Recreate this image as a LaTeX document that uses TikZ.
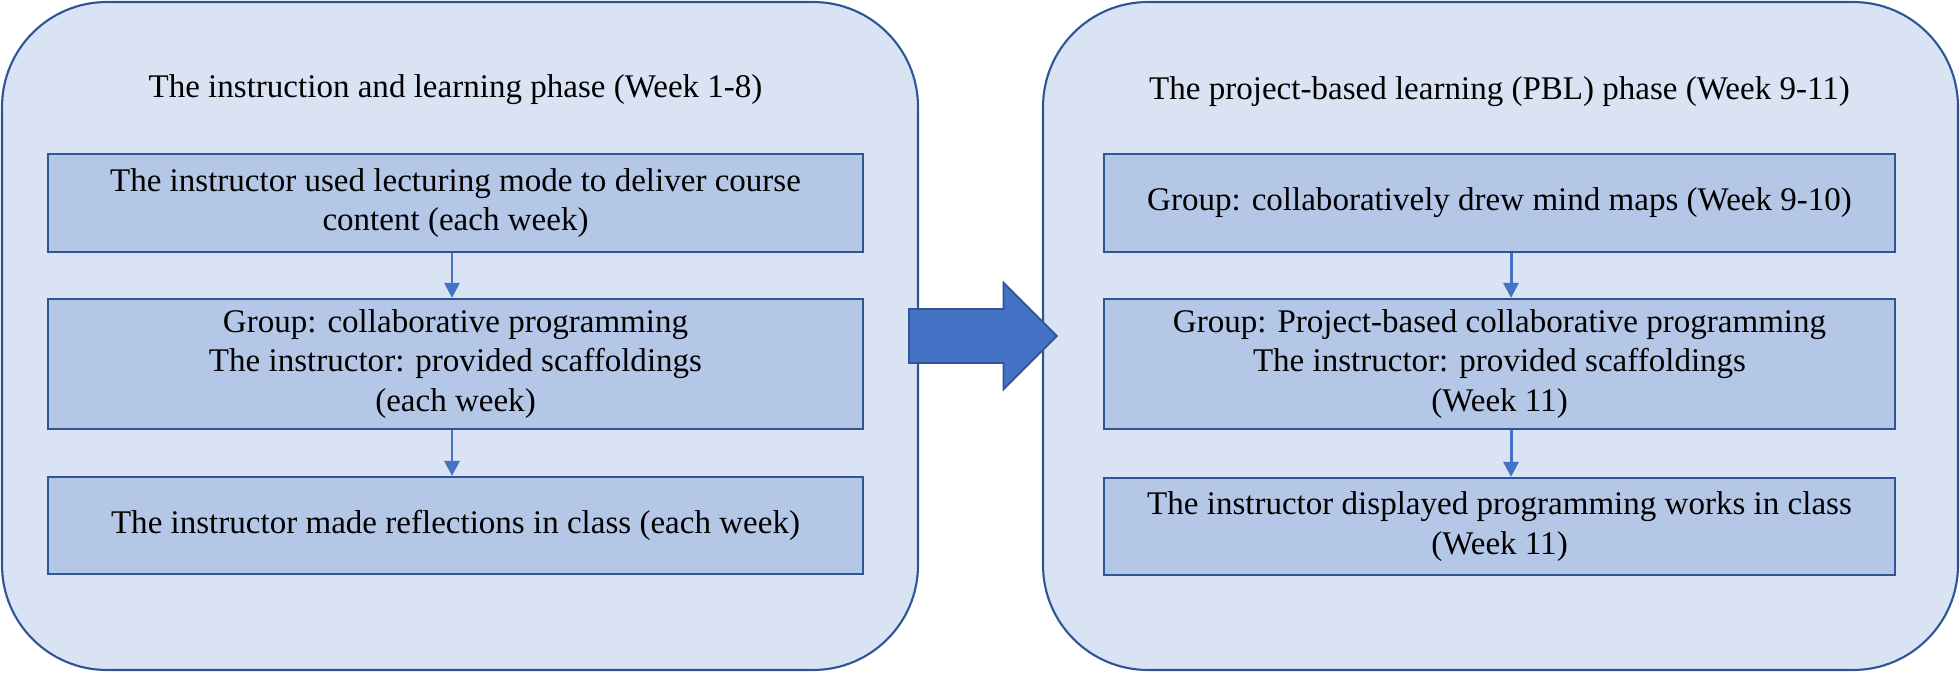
\documentclass[tikz,border=0pt]{standalone}
\usepackage{fontspec}
\setmainfont{Liberation Serif}
\usetikzlibrary{shapes.arrows, arrows.meta}
\definecolor{panelfill}{HTML}{DAE3F3}
\definecolor{boxfill}{HTML}{B4C7E7}
\definecolor{edgeblue}{HTML}{2F5597}
\definecolor{arrowblue}{HTML}{4472C4}

\begin{document}
\begin{tikzpicture}[
    panel/.style={rectangle, draw=edgeblue, line width=0.6pt, fill=panelfill, rounded corners=1.05cm, minimum width=9.16cm, minimum height=6.68cm},
    stagebox/.style={rectangle, draw=edgeblue, line width=0.6pt, fill=boxfill, minimum height=0.98cm, inner sep=0pt, align=center, font={\fontsize{9.4}{11.2}\selectfont}},
    phasetitle/.style={anchor=base, font={\fontsize{9.4}{11.2}\selectfont}},
    arrow/.style={-{Triangle[length=0.15cm, width=0.15cm]}, draw=arrowblue, line width=0.85pt},
    bigarrow/.style={single arrow, draw=edgeblue, line width=0.5pt, fill=arrowblue, inner xsep=0pt, inner ysep=0.26cm, minimum height=1.48cm, single arrow head extend=0.265cm, anchor=tail}
]
    \useasboundingbox (0,0) rectangle (19.6,-6.73);

    % Left phase
    \node[panel] (left) at (4.6, -3.36) {};
    \node[phasetitle] (ltitle) at (4.555, -0.98) {The instruction and learning phase (Week 1-8)};
    \node[stagebox, minimum width=8.15cm] (l1) at (4.555, -2.03) {The instructor used lecturing mode to deliver course\\content (each week)};
    \node[stagebox, minimum width=8.15cm, minimum height=1.30cm] (l2) at (4.555, -3.64) {Group: collaborative programming\\The instructor: provided scaffoldings\\(each week)};
    \node[stagebox, minimum width=8.15cm, minimum height=0.97cm] (l3) at (4.555, -5.255) {The instructor made reflections in class (each week)};
    \draw[arrow] ([xshift=-0.035cm]l1.south) -- ([xshift=-0.035cm]l2.north);
    \draw[arrow] ([xshift=-0.035cm]l2.south) -- ([xshift=-0.035cm]l3.north);

    % Right phase
    \node[panel, minimum width=9.15cm] (right) at (15.005, -3.36) {};
    \node[phasetitle] (rtitle) at (14.995, -1.00) {The project-based learning (PBL) phase (Week 9-11)};
    \node[stagebox, minimum width=7.91cm] (r1) at (14.995, -2.03) {Group: collaboratively drew mind maps (Week 9-10)};
    \node[stagebox, minimum width=7.91cm, minimum height=1.30cm] (r2) at (14.995, -3.64) {Group: Project-based collaborative programming\\The instructor: provided scaffoldings\\(Week 11)};
    \node[stagebox, minimum width=7.91cm, minimum height=0.97cm] (r3) at (14.995, -5.265) {The instructor displayed programming works in class\\(Week 11)};
    \draw[arrow] ([xshift=0.115cm]r1.south) -- ([xshift=0.115cm]r2.north);
    \draw[arrow] ([xshift=0.115cm]r2.south) -- ([xshift=0.115cm]r3.north);

    % Between phases
    \node[bigarrow] (shift) at (9.08, -3.36) {};
\end{tikzpicture}
\end{document}
